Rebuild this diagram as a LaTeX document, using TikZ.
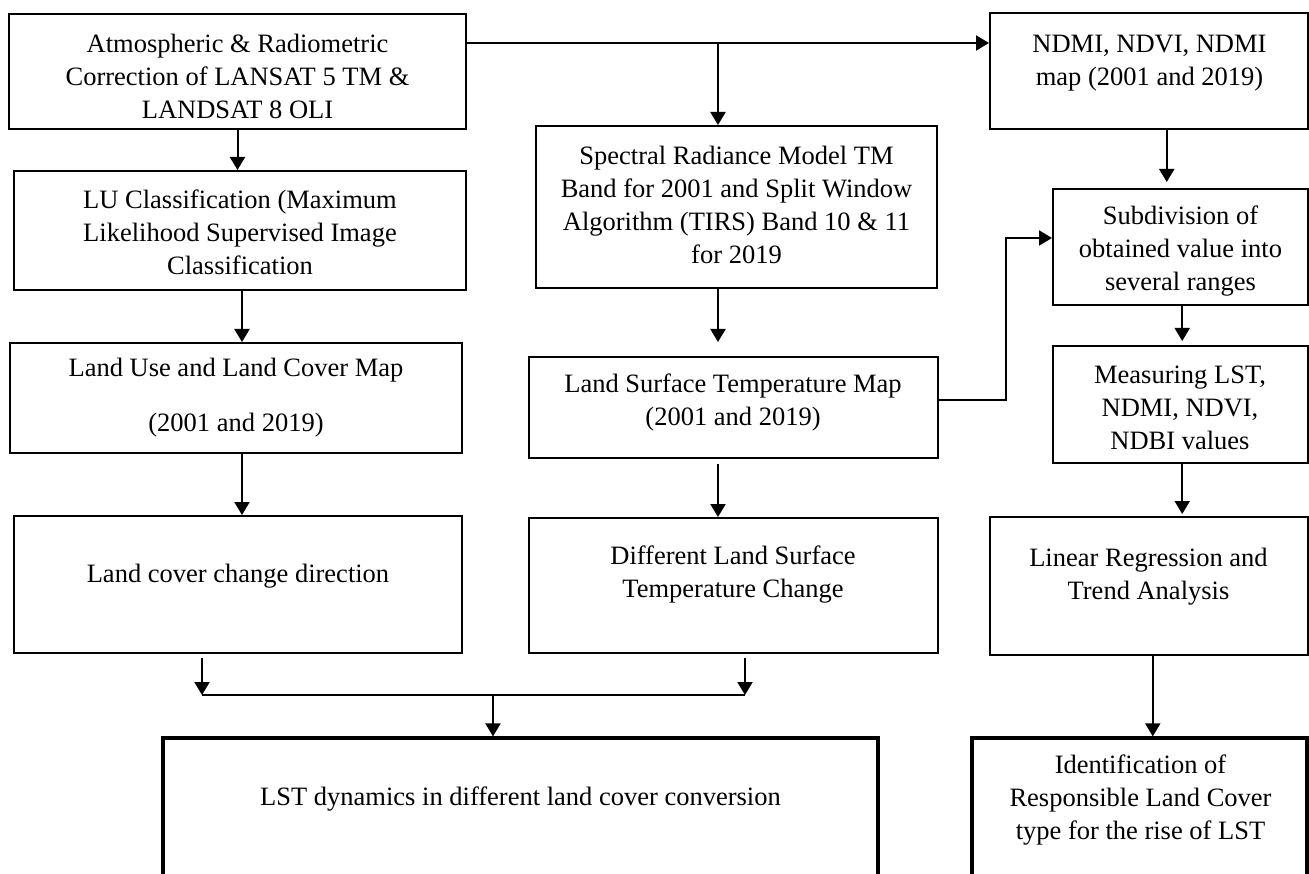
\documentclass[tikz,border=0pt]{standalone}
\usepackage{fontspec}
\setmainfont{Liberation Serif}
\usetikzlibrary{arrows.meta}
\begin{document}
\begin{tikzpicture}[x=1pt,y=-1pt,
  box/.style={draw, line width=2pt, inner sep=0pt},
  thickbox/.style={draw, line width=3.2pt, inner sep=0pt},
  txt/.style={align=center, font=\fontsize{26.5}{33}\selectfont, inner sep=0pt},
  arr/.style={line width=2pt, -{Triangle[length=13pt,width=15pt]}},
  ln/.style={line width=2pt}]
\useasboundingbox (0,0) rectangle (1309,874);
\fill[white] (0,0) rectangle (1309,874);
\clip (0,0) rectangle (1309,874);

% boxes
\node[box, minimum width=457pt, minimum height=115pt] (b1) at (237.5,71.5) {};
\node[box, minimum width=452pt, minimum height=119pt] (b2) at (240,230.5) {};
\node[box, minimum width=452pt, minimum height=110pt] (b3) at (236,398) {};
\node[box, minimum width=448pt, minimum height=137pt] (b4) at (238,584.5) {};
\node[box, minimum width=401pt, minimum height=162pt] (b5) at (736.5,207) {};
\node[box, minimum width=409pt, minimum height=101pt] (b6) at (733.5,407.5) {};
\node[box, minimum width=409pt, minimum height=135pt] (b7) at (733.5,585.5) {};
\node[box, minimum width=317.5pt, minimum height=116pt] (b8) at (1148.75,71) {};
\node[box, minimum width=254.5pt, minimum height=116pt] (b9) at (1180.25,247) {};
\node[box, minimum width=254.5pt, minimum height=117pt] (b10) at (1180.25,404.5) {};
\node[box, minimum width=317.5pt, minimum height=138pt] (b11) at (1148.75,586) {};
\node[thickbox, minimum width=715pt, minimum height=162pt] (b12) at (520.5,819) {};
\node[thickbox, minimum width=335pt, minimum height=162pt] (b13) at (1139.5,819) {};

% texts
\node[txt] (t1) at (237.5,76) {Atmospheric \& Radiometric\\Correction of LANSAT 5 TM \&\\LANDSAT 8 OLI};
\node[txt] (t2) at (240,232) {LU Classification (Maximum\\Likelihood Supervised Image\\Classification};
\node[txt] (t3) at (236,398) {Land Use and Land Cover Map\\[22pt](2001 and 2019)};
\node[txt] (t4) at (238,576) {Land cover change direction};
\node[txt] (t5) at (736.5,205) {Spectral Radiance Model TM\\Band for 2001 and Split Window\\Algorithm (TIRS) Band 10 \& 11\\for 2019};
\node[txt] (t6) at (733,402) {Land Surface Temperature Map\\(2001 and 2019)};
\node[txt] (t7) at (733,575) {Different Land Surface\\Temperature Change};
\node[txt] (t8) at (1149.5,63) {NDMI, NDVI, NDMI\\map (2001 and 2019)};
\node[txt] (t9) at (1180.5,251) {Subdivision of\\obtained value into\\several ranges};
\node[txt] (t10) at (1180,408) {Measuring LST,\\NDMI, NDVI,\\NDBI values};
\node[txt] (t11) at (1148.5,577) {Linear Regression and\\Trend Analysis};
\node[txt] (t12) at (520.5,799) {LST dynamics in different land cover conversion};
\node[txt] (t13) at (1140.5,800) {Identification of\\Responsible Land Cover\\type for the rise of LST};

% connectors
\coordinate (j1) at (718,43);
\draw[arr] (b1.east |- j1) -- (b8.west |- j1);
\draw[arr] (j1) -- (j1 |- b5.north);
\draw[arr] (b1.south) -- (b1.south |- b2.north);
\draw[arr] ([xshift=2pt]b2.south) -- ([xshift=2pt]b2.south |- b3.north);
\draw[arr] ([xshift=6pt]b3.south) -- ([xshift=6pt]b3.south |- b4.north);
\draw[arr, shorten >=14pt] (j1 |- b5.south) -- (j1 |- b6.north);
\draw[arr, shorten <=5pt] (j1 |- b6.south) -- (j1 |- b7.north);
\coordinate (e0) at (1006,400);
\coordinate (e1) at (1006,238);
\draw[arr] (b6.east |- e0) -- (e0) -- (e1) -- (b9.west |- e1);
\draw[arr, shorten >=6pt] ([xshift=18pt]b8.south) -- ([xshift=18pt]b8.south |- b9.north);
\draw[arr, shorten >=4pt] ([xshift=2pt]b9.south) -- ([xshift=2pt]b9.south |- b10.north);
\draw[arr, shorten >=2pt] ([xshift=2pt]b10.south) -- ([xshift=2pt]b10.south |- b11.north);
\draw[arr] ([xshift=4pt]b11.south) -- ([xshift=4pt]b11.south |- b13.north);
\coordinate (m1) at (202,695);
\coordinate (m2) at (745,695);
\coordinate (m3) at (493,695);
\draw[arr, shorten <=4pt] (b4.south -| m1) -- (m1);
\draw[arr, shorten <=4pt] (b7.south -| m2) -- (m2);
\draw[ln] (m1) -- (m2);
\draw[arr] (m3) -- (m3 |- b12.north);
\end{tikzpicture}
\end{document}
